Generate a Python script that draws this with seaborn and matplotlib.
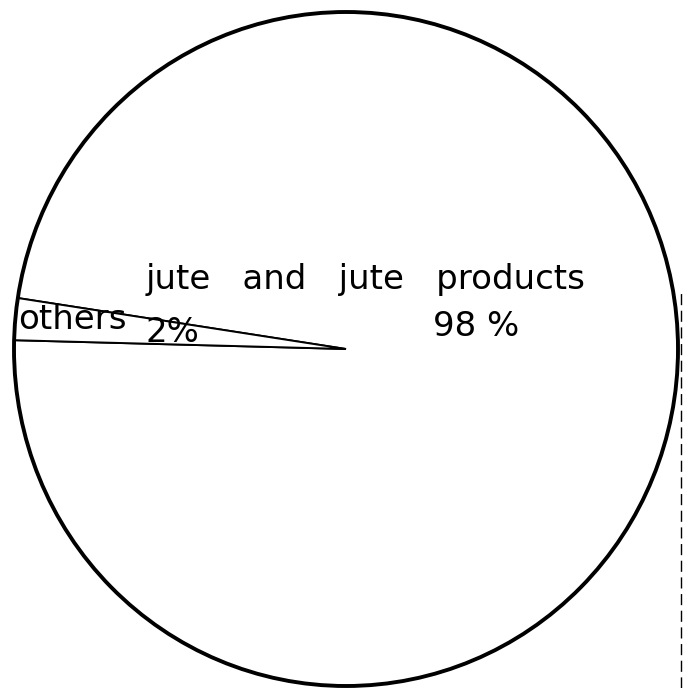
import matplotlib
matplotlib.use("Agg")
import matplotlib.pyplot as plt
from matplotlib.patches import Ellipse
import seaborn as sns

# Export composition shares
categories = ["jute and jute products", "others"]
shares = [98, 2]
share_labels = ["98 %", "2%"]

sns.set_theme(style="white")
plt.rcParams["font.family"] = ["DejaVu Sans"]

fig = plt.figure(figsize=(6.88, 6.88), dpi=100)
W = H = 688.0
cx, cy, rx, ry = 346.0, 349.0, 332.0, 337.0
ax = fig.add_axes([(cx - rx) / W, (H - cy - ry) / H, 2 * rx / W, 2 * ry / H])

wedges, _ = ax.pie(
    shares,
    startangle=178.5,
    counterclock=True,
    colors=["white", "white"],
    wedgeprops=dict(edgecolor="black", linewidth=1.4, clip_on=False),
)
ax.set_aspect("auto")
ax.set_xlim(-1, 1)
ax.set_ylim(-1, 1)
ax.axis("off")

# heavier outer rim
ax.add_patch(Ellipse((0, 0), 2, 2, fill=False, edgecolor="black",
                     linewidth=2.8, clip_on=False))


def px(x, y):
    return (x - cx) / rx, (cy - y) / ry


style = dict(ha="left", va="baseline", fontsize=24.5, color="black")

tx, ty = px(146, 289)
ax.text(tx, ty, "jute   and   jute   products", **style)
tx, ty = px(433, 336)
ax.text(tx, ty, share_labels[0], **style)
tx, ty = px(18, 329)
ax.text(tx, ty, categories[1], **style)
tx, ty = px(146, 342)
ax.text(tx, ty, share_labels[1], **style)

# page edge on the right
fig.add_artist(plt.Line2D([681 / W, 681 / W], [0, 1 - 288 / H],
                          color="black", linewidth=1.0, linestyle=(0, (8, 4))))

fig.savefig("out.png", dpi=100, facecolor="white")
